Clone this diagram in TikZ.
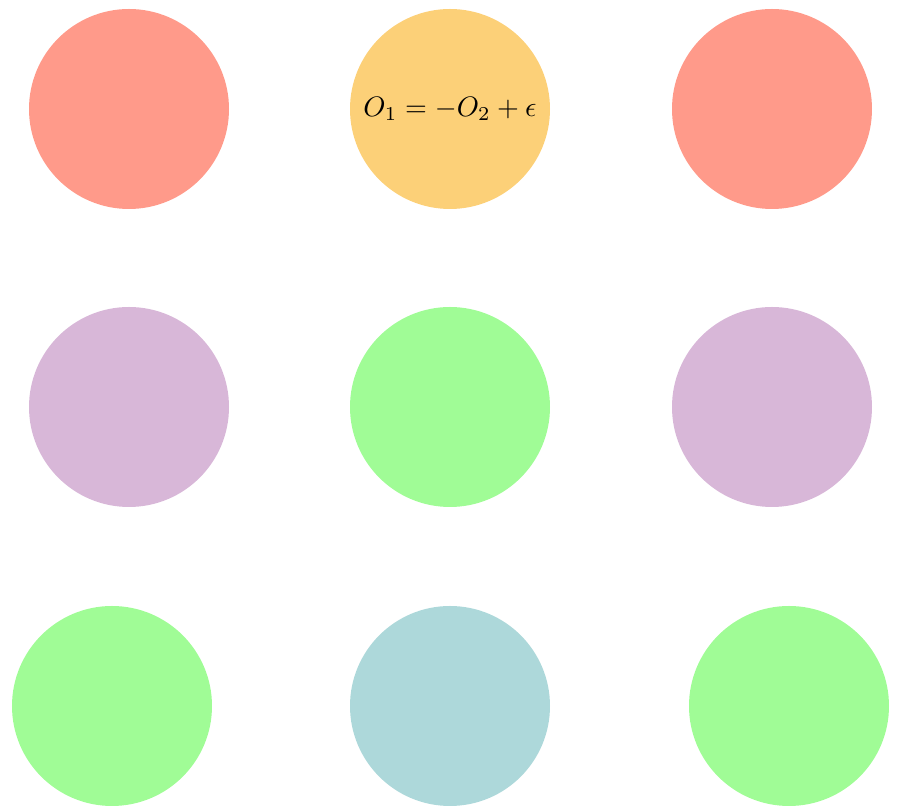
\documentclass[tikz,border=0pt]{standalone}
\usepackage{amsmath,amssymb}
\usepackage{tikz}
\usetikzlibrary{positioning}
\definecolor{SoftSalmon}{RGB}{255,154,138}
\definecolor{SoftAmber}{RGB}{252,208,120}
\definecolor{SoftLilac}{RGB}{216,183,216}
\definecolor{SoftLime}{RGB}{160,252,150}
\definecolor{SoftTeal}{RGB}{173,216,218}

\begin{document}
\begin{tikzpicture}[disc/.style={circle, minimum size=2.5cm, inner sep=0pt}]
    \useasboundingbox (0,0) rectangle (11.275,10.075);
    \node [disc, fill=SoftSalmon] (topL) at (1.6125,8.7125) {};
    \node [disc, fill=SoftAmber] (topC) at (5.625,8.7125) {$O_1 = -O_2 + \epsilon$};
    \node [disc, fill=SoftSalmon] (topR) at (9.65,8.7125) {};
    \node [disc, fill=SoftLilac] (midL) at (1.6125,4.9875) {};
    \node [disc, fill=SoftLime] (midC) at (5.625,4.9875) {};
    \node [disc, fill=SoftLilac] (midR) at (9.65,4.9875) {};
    \node [disc, fill=SoftLime] (botL) at (1.4,1.25) {};
    \node [disc, fill=SoftTeal] (botC) at (5.625,1.25) {};
    \node [disc, fill=SoftLime] (botR) at (9.8625,1.25) {};
\end{tikzpicture}
\end{document}
